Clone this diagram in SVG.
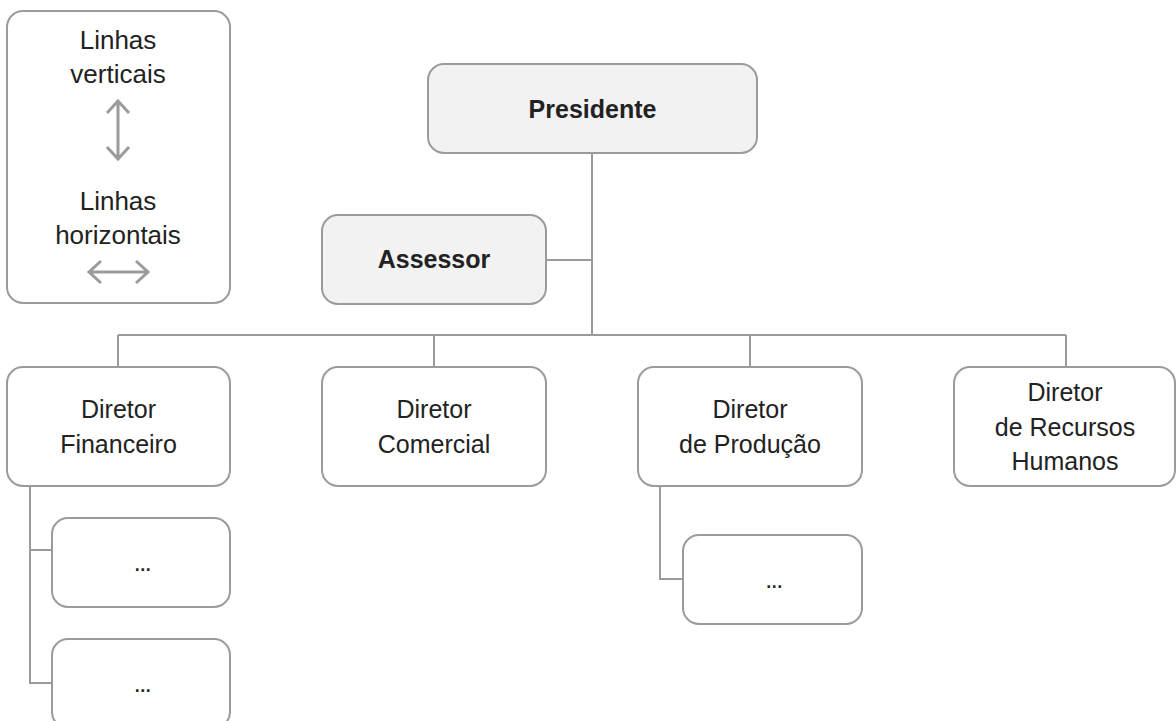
<svg xmlns="http://www.w3.org/2000/svg" width="1176" height="721" viewBox="0 0 1176 721">
<style>
.box{fill:#ffffff;stroke:#9b9b9b;stroke-width:2}
.hl{fill:#f2f2f3;stroke:#9b9b9b;stroke-width:2}
.t{font-family:"Liberation Sans",Arial,sans-serif;font-size:25px;fill:#222222;text-anchor:middle}
.lg{font-size:26px}
.b{font-weight:700}
.d{letter-spacing:-1.5px}
.ln{fill:none;stroke:#9b9b9b;stroke-width:2}
.ar{fill:none;stroke:#9b9b9b;stroke-width:3}
</style>
<rect width="1176" height="721" fill="#ffffff"/>
<g id="connectors">
<path class="ln" d="M592 153V335M546 260H592M118 335H1066M118 335V367M434 335V367M750 335V367M1066 335V367"/>
<path class="ln" d="M30 486V683H52M30 550H52"/>
<path class="ln" d="M660 486V579H683"/>
</g>
<g id="legend">
<rect class="box" x="7" y="11" width="223" height="292" rx="16"/>
<text class="t lg" x="118" y="49">Linhas</text>
<text class="t lg" x="118" y="83">verticais</text>
<path class="ar" d="M118 101V159M107 113L118 101L129 113M107 147L118 159L129 147"/>
<text class="t lg" x="118" y="210">Linhas</text>
<text class="t lg" x="118" y="244">horizontais</text>
<path class="ar" d="M89 272H148M101 261L89 272L101 283M136 261L148 272L136 283"/>
</g>
<g id="presidente">
<rect class="hl" x="428" y="64" width="329" height="89" rx="16"/>
<text class="t b" x="592.5" y="118" font-size="28">Presidente</text>
</g>
<g id="assessor">
<rect class="hl" x="322" y="215" width="224" height="89" rx="16"/>
<text class="t b" x="434" y="268">Assessor</text>
</g>
<g id="dir-financeiro">
<rect class="box" x="7" y="367" width="223" height="119" rx="16"/>
<text class="t" x="118.5" y="418">Diretor</text>
<text class="t" x="118.5" y="453">Financeiro</text>
</g>
<g id="dir-comercial">
<rect class="box" x="322" y="367" width="224" height="119" rx="16"/>
<text class="t" x="434" y="418">Diretor</text>
<text class="t" x="434" y="453">Comercial</text>
</g>
<g id="dir-producao">
<rect class="box" x="638" y="367" width="224" height="119" rx="16"/>
<text class="t" x="750" y="418">Diretor</text>
<text class="t" x="750" y="453">de Produção</text>
</g>
<g id="dir-rh">
<rect class="box" x="954" y="367" width="221" height="119" rx="16"/>
<text class="t" x="1065" y="401">Diretor</text>
<text class="t" x="1065" y="436">de Recursos</text>
<text class="t" x="1065" y="470">Humanos</text>
</g>
<g id="fin-sub1">
<rect class="box" x="52" y="518" width="178" height="89" rx="16"/>
<text class="t d" x="142" y="571">...</text>
</g>
<g id="fin-sub2">
<rect class="box" x="52" y="639" width="178" height="89" rx="16"/>
<text class="t d" x="142" y="692">...</text>
</g>
<g id="prod-sub1">
<rect class="box" x="683" y="535" width="179" height="89" rx="16"/>
<text class="t d" x="773.5" y="588">...</text>
</g>
</svg>
